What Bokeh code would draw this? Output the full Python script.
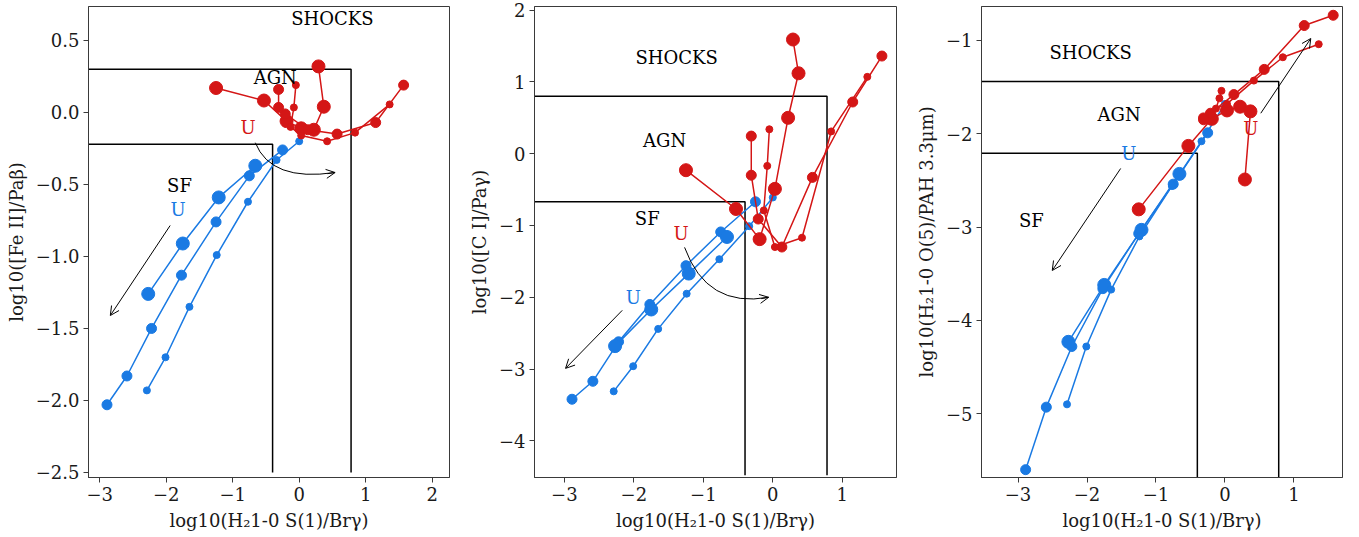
from bokeh.plotting import figure
from bokeh.layouts import row
from bokeh.models import Range1d, FixedTicker, CustomJSTickFormatter, Arrow, OpenHead, Label
from bokeh.embed import file_html
from bokeh.resources import INLINE

BLUE = "#1a7ae3"
RED = "#d41616"
FONT = "DejaVu Serif"

# ---- model tracks: log10(H2 1-0 S(1)/Br-gamma), shared by the three diagrams ----
# star-forming (SF) model tracks
sf_big_x = [-2.27, -1.75, -1.21, -0.66]
sf_mid_x = [-2.89, -2.59, -2.22, -1.77, -1.25, -0.75, -0.25]
sf_small_x = [-2.29, -2.01, -1.65, -1.24, -0.77, -0.34, 0.0]
# AGN model tracks
agn_big_x = [-1.25, -0.53, -0.19, 0.03, 0.22, 0.37, 0.29]
agn_mid_x = [1.57, 1.15, 0.57, 0.13, -0.21, -0.31, -0.31]
agn_small_x = [1.36, 0.84, 0.42, 0.03, -0.13, -0.08, -0.05]

# ---- log10([Fe II]/Pa-beta) ----
feii_sf_big = [-1.26, -0.91, -0.59, -0.37]
feii_sf_mid = [-2.03, -1.83, -1.50, -1.13, -0.76, -0.44, -0.26]
feii_sf_small = [-1.93, -1.70, -1.35, -0.99, -0.62, -0.33, -0.20]
feii_agn_big = [0.17, 0.083, -0.06, -0.11, -0.12, 0.04, 0.32]
feii_agn_mid = [0.19, -0.07, -0.15, -0.12, -0.01, 0.035, 0.16]
feii_agn_small = [0.056, -0.14, -0.20, -0.16, -0.10, 0.035, 0.19]

# ---- log10([C I]/Pa-gamma) ----
ci_sf_big = [-2.68, -2.17, -1.67, -1.16]
ci_sf_mid = [-3.42, -3.17, -2.62, -2.10, -1.56, -1.09, -0.67]
ci_sf_small = [-3.31, -2.96, -2.44, -1.95, -1.47, -1.01, -0.61]
ci_agn_big = [-0.23, -0.77, -1.19, -0.49, 0.50, 1.12, 1.59]
ci_agn_mid = [1.36, 0.72, -0.33, -1.30, -0.91, -0.30, 0.245]
ci_agn_small = [1.07, 0.31, -1.17, -1.30, -0.79, -0.17, 0.34]

# ---- log10(H2 1-0 O(5)/PAH 3.3um) ----
pah_sf_big = [-4.23, -3.62, -3.03, -2.43]
pah_sf_mid = [-5.60, -4.93, -4.28, -3.66, -3.07, -2.54, -1.99]
pah_sf_small = [-4.90, -4.28, -3.67, -3.10, -2.56, -2.08, -1.68]
pah_agn_big = [-2.81, -2.13, -1.84, -1.75, -1.71, -1.76, -2.49]
pah_agn_mid = [-0.73, -0.84, -1.31, -1.58, -1.78, -1.83, -1.85]
pah_agn_small = [-1.04, -1.18, -1.43, -1.68, -1.73, -1.62, -1.54]

# ---- diagnostic boundaries ----
sf_limit_x = -0.40     # log10(0.4)
agn_limit_x = 0.78     # log10(6)
feii_limits = [-0.22, 0.30]
ci_limits = [-0.67, 0.80]
pah_limits = [-2.21, -1.44]

x_ticks_1 = [-3, -2, -1, 0, 1, 2]
x_ticks_23 = [-3, -2, -1, 0, 1]
y_ticks_1 = [0.5, 0.0, -0.5, -1.0, -1.5, -2.0, -2.5]
y_ticks_2 = [2, 1, 0, -1, -2, -3, -4]
y_ticks_3 = [-1, -2, -3, -4, -5]

XLABEL = "log10(H\u20821-0 S(1)/Br\u03b3)"

SIZE_BIG, SIZE_MID, SIZE_SMALL = 13, 10, 7


def fmt(decimals):
    return CustomJSTickFormatter(code=f"""
        const s = Math.abs(tick).toFixed({decimals});
        return (tick < -1e-9 ? '\\u2212' : '') + s;
    """)


def panel(width, left, right, xr, yr, xt, yt, ydec, ylabel, sf_y, agn_y, limits, vbottom):
    p = figure(width=width, height=537, output_backend="svg", toolbar_location=None,
               x_range=Range1d(*xr), y_range=Range1d(*yr),
               min_border_left=left, min_border_right=right,
               min_border_top=6, min_border_bottom=60)
    p.background_fill_color = "white"
    p.border_fill_color = "white"
    p.xgrid.visible = False
    p.ygrid.visible = False
    p.outline_line_color = "#3a3a3a"
    p.outline_line_width = 1
    for ax, ticks, dec in ((p.xaxis[0], xt, 0), (p.yaxis[0], yt, ydec)):
        ax.ticker = FixedTicker(ticks=ticks)
        ax.formatter = fmt(dec)
        ax.axis_line_color = "#3a3a3a"
        ax.major_tick_line_color = "#3a3a3a"
        ax.major_tick_in = 0
        ax.major_tick_out = 5
        ax.minor_tick_out = 0
        ax.minor_tick_in = 0
        ax.major_label_text_font = FONT
        ax.major_label_text_font_size = "18px"
        ax.major_label_text_color = "#1a1a1a"
        ax.axis_label_text_font = FONT
        ax.axis_label_text_font_size = "18px"
        ax.axis_label_text_font_style = "normal"
        ax.axis_label_text_color = "#1a1a1a"
        ax.major_label_standoff = 4
        ax.axis_label_standoff = 6
    p.xaxis.axis_label = XLABEL
    p.yaxis.axis_label = ylabel

    # diagnostic boxes
    sf_y_lim, agn_y_lim = limits
    p.line([xr[0], sf_limit_x, sf_limit_x], [sf_y_lim, sf_y_lim, vbottom],
           line_color="black", line_width=1.5)
    p.line([xr[0], agn_limit_x, agn_limit_x], [agn_y_lim, agn_y_lim, vbottom],
           line_color="black", line_width=1.5)

    # model tracks
    tracks = [
        (sf_mid_x, sf_y[1], SIZE_MID, BLUE),
        (sf_big_x, sf_y[0], SIZE_BIG, BLUE),
        (sf_small_x, sf_y[2], SIZE_SMALL, BLUE),
        (agn_big_x, agn_y[0], SIZE_BIG, RED),
        (agn_mid_x, agn_y[1], SIZE_MID, RED),
        (agn_small_x, agn_y[2], SIZE_SMALL, RED),
    ]
    for xs, ys, sz, col in tracks:
        p.line(xs, ys, line_color=col, line_width=1.5)
        p.scatter(xs, ys, size=sz, marker="circle", fill_color=col, line_color=col)
    return p


def label(p, x, y, text, color="black"):
    p.add_layout(Label(x=x, y=y, text=text, text_align="center", text_baseline="middle",
                       text_font=FONT, text_font_size="18px", text_color=color))


def arrow(p, x0, y0, x1, y1):
    p.add_layout(Arrow(end=OpenHead(size=9, line_width=1, line_color="black"),
                       x_start=x0, y_start=y0, x_end=x1, y_end=y1,
                       line_color="black", line_width=1))


def curved_arrow(p, x0, y0, cx, cy, x1, y1):
    p.quadratic(x0=[x0], y0=[y0], x1=[x1], y1=[y1], cx=[cx], cy=[cy],
                line_color="black", line_width=1)
    k = 0.12
    arrow(p, x1 - k * (x1 - cx), y1 - k * (y1 - cy), x1, y1)


# [Fe II]/Pa-beta diagram
p1 = panel(452, 88, 3, (-3.168, 2.26), (-2.535, 0.736), x_ticks_1, y_ticks_1, 1,
           "log10([Fe II]/Pa\u03b2)",
           (feii_sf_big, feii_sf_mid, feii_sf_small),
           (feii_agn_big, feii_agn_mid, feii_agn_small), feii_limits, -2.5)
label(p1, 0.50, 0.653, "SHOCKS")
label(p1, -0.36, 0.243, "AGN")
label(p1, -1.80, -0.507, "SF")
label(p1, -1.82, -0.674, "U", BLUE)
label(p1, -0.77, -0.104, "U", RED)
arrow(p1, -1.94, -0.785, -2.84, -1.41)
curved_arrow(p1, -0.66, -0.21, -0.424, -0.483, 0.54, -0.417)

# [C I]/Pa-gamma diagram
p2 = panel(447, 82, 3, (-3.43, 1.78), (-4.51, 2.05), x_ticks_23, y_ticks_2, 0,
           "log10([C I]/Pa\u03b3)",
           (ci_sf_big, ci_sf_mid, ci_sf_small),
           (ci_agn_big, ci_agn_mid, ci_agn_small), ci_limits, -4.48)
label(p2, -1.385, 1.341, "SHOCKS")
label(p2, -1.558, 0.186, "AGN")
label(p2, -1.807, -0.901, "SF")
label(p2, -1.321, -1.106, "U", RED)
label(p2, -2.009, -1.997, "U", BLUE)
arrow(p2, -2.167, -2.182, -2.983, -2.99)
curved_arrow(p2, -1.27, -1.305, -0.951, -2.156, -0.06, -2.0)

# H2 1-0 O(5)/PAH 3.3um diagram
p3 = panel(460, 82, 17, (-3.53, 1.705), (-5.684, -0.636), x_ticks_23, y_ticks_3, 0,
           "log10(H\u20821-0 O(5)/PAH 3.3\u03bcm)",
           (pah_sf_big, pah_sf_mid, pah_sf_small),
           (pah_agn_big, pah_agn_mid, pah_agn_small), pah_limits, -5.684)
label(p3, -1.948, -1.129, "SHOCKS")
label(p3, -1.534, -1.793, "AGN")
label(p3, -2.808, -2.929, "SF")
label(p3, -1.392, -2.211, "U", BLUE)
label(p3, 0.374, -1.94, "U", RED)
arrow(p3, -1.512, -2.372, -2.504, -3.465)
arrow(p3, 0.52, -1.78, 1.245, -0.979)

layout = row(p1, p2, p3, spacing=0)
open("out.html", "w").write(file_html(layout, INLINE))
